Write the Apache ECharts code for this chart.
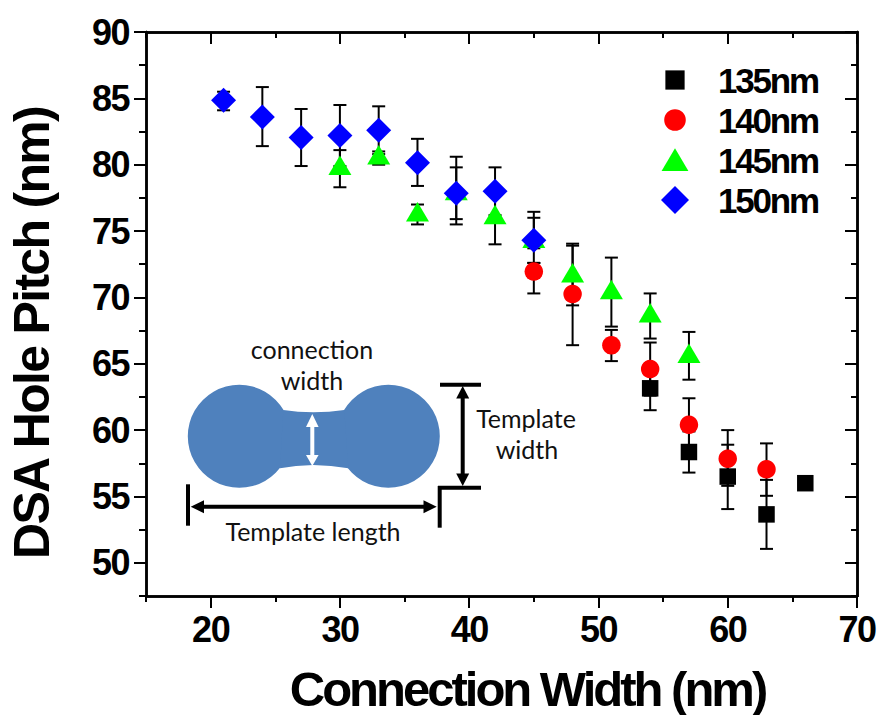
<!DOCTYPE html>
<html><head><meta charset="utf-8">
<style>
html,body{margin:0;padding:0;background:#fff}
#c{width:880px;height:715px}
text[style*="36px"]{letter-spacing:-1.5px}
text[style*="35px"]{letter-spacing:-2.2px}
text[style*="49px"]{letter-spacing:-3px}
text[style*="50px"]{letter-spacing:-1.7px}
</style>
<script src="https://cdn.jsdelivr.net/npm/echarts@6/dist/echarts.min.js"></script>
</head><body><div id="c"></div>
<script>
const xMajor=[20,30,40,50,60,70];
const xMinor=[15,25,35,45,55,65];
const yMajor=[50,55,60,65,70,75,80,85,90];
const yMinor=[47.5,52.5,57.5,62.5,67.5,72.5,77.5,82.5,87.5];

const x135=[54,57,60,63,66];
const y135=[63.15,58.35,56.5,53.65,56.0];
const lo135=[61.5,56.8,54.05,51.05,55.7];
const hi135=[64.8,59.9,58.9,56.25,56.3];

const x140=[45,48,51,54,57,60,63];
const y140=[71.95,70.25,66.4,64.6,60.4,57.85,57.05];
const lo140=[70.3,66.4,65.2,62.6,58.4,55.8,55.05];
const hi140=[72.6,73.9,67.55,66.6,62.4,60.0,59.0];

const x145=[30,33,36,39,42,45,48,51,54,57];
const y145=[79.8,80.6,76.3,77.9,76.1,74.3,71.7,70.45,68.7,65.65];
const lo145=[78.3,80.0,75.5,75.9,74.0,72.6,69.4,67.8,66.9,63.8];
const hi145=[81.1,81.0,77.0,79.8,78.2,76.0,74.05,73.0,70.3,67.4];

const x150=[21,24,27,30,33,36,39,42,45];
const y150=[84.85,83.6,82.05,82.2,82.6,80.15,77.85,78.0,74.3];
const lo150=[84.1,81.4,79.9,79.9,80.8,78.4,75.5,76.2,73.7];
const hi150=[85.5,85.85,84.2,84.5,84.4,81.95,80.6,79.8,76.45];

const seriesNames=['135nm','140nm','145nm','150nm'];
const xTitle='Connection Width (nm)';
const yTitle='DSA Hole Pitch (nm)';

const F='"Liberation Sans", Arial, sans-serif';
const IF='Lato, "Open Sans", sans-serif';
const AW=2.5;

function zip(a,b){return a.map((v,i)=>[v,b[i]])}
function errSeries(name,xs,los,his){
  return {type:'custom',name:name,xAxisIndex:0,yAxisIndex:0,z:2,silent:true,clip:false,
    data:xs.map((v,i)=>[v,los[i],his[i]]),
    encode:{x:0,y:[1,2]},
    renderItem:function(p,api){
      const a=api.coord([api.value(0),api.value(1)]);
      const b=api.coord([api.value(0),api.value(2)]);
      const s={stroke:'#000',lineWidth:2};
      const h=6.5;
      return {type:'group',children:[
        {type:'line',shape:{x1:a[0],y1:a[1],x2:b[0],y2:b[1]},style:s},
        {type:'line',shape:{x1:a[0]-h,y1:a[1],x2:a[0]+h,y2:a[1]},style:s},
        {type:'line',shape:{x1:b[0]-h,y1:b[1],x2:b[0]+h,y2:b[1]},style:s}
      ]};
    }};
}
function scatter(name,xs,ys,symbol,size,color,z,off){
  return {type:'scatter',name:name,xAxisIndex:0,yAxisIndex:0,data:zip(xs,ys),symbol:symbol,symbolSize:size,
    symbolOffset:off||[0,0],z:z,itemStyle:{color:color,opacity:1},silent:true,clip:false};
}
const tickS=w=>({color:'#000',width:w||2});
function xAx(pos,vals,len,inside,main){
  return {type:'value',position:pos,min:15,max:70,
    splitLine:{show:false},
    axisLine:{show:true,onZero:false,lineStyle:{color:'#000',width:AW}},
    axisTick:{show:true,customValues:vals,length:len,inside:inside,lineStyle:tickS()},
    axisLabel:main?{show:true,customValues:xMajor,margin:15,color:'#000',fontFamily:F,fontWeight:'bold',fontSize:36}:{show:false},
    ...(main?{name:xTitle,nameLocation:'middle',nameGap:68,nameTextStyle:{color:'#000',fontFamily:F,fontWeight:'bold',fontSize:49,padding:[0,0,0,52]}}:{})
  };
}
function yAx(pos,vals,len,inside,main){
  return {type:'value',position:pos,min:47.5,max:90,
    splitLine:{show:false},
    axisLine:{show:true,onZero:false,lineStyle:{color:'#000',width:AW}},
    axisTick:{show:true,customValues:vals,length:len,inside:inside,lineStyle:tickS()},
    axisLabel:main?{show:true,customValues:yMajor,margin:17,color:'#000',fontFamily:F,fontWeight:'bold',fontSize:36}:{show:false},
    ...(main?{name:yTitle,nameLocation:'middle',nameGap:89,nameTextStyle:{color:'#000',fontFamily:F,fontWeight:'bold',fontSize:50,padding:[0,38,0,0]}}:{})
  };
}
const K={stroke:'#000',lineWidth:4};
const ln=(x1,y1,x2,y2,st)=>({type:'line',shape:{x1,y1,x2,y2},style:st||K,z:5,silent:true});
const pg=(pts,fill)=>({type:'polygon',shape:{points:pts},style:{fill:fill||'#000'},z:5,silent:true});
const tx=(t,x,y)=>({type:'text',x,y,z:6,silent:true,style:{text:t,fill:'#111',font:'25px '+IF,align:'center',verticalAlign:'middle'}});
const BL='#4f81bd';
const graphics=[
  {type:'circle',shape:{cx:239.3,cy:436.3,r:51.5},style:{fill:BL},z:4,silent:true},
  {type:'circle',shape:{cx:388.3,cy:436.3,r:51.5},style:{fill:BL},z:4,silent:true},
  {type:'polygon',z:4,silent:true,style:{fill:BL},shape:{points:[[283.3,410],[298,411.7],[313.3,412.3],[329,411.7],[344.3,410],[348.3,468.3],[331,466],[313.3,465],[296,466],[280,468.3]]}},
  ln(312.3,424,312.3,456,{stroke:'#fff',lineWidth:4}),
  pg([[312.3,414],[306,427],[318.6,427]],'#fff'),
  pg([[312.3,466],[306,455],[318.6,455]],'#fff'),
  ln(188,484.3,188,525.7),
  ln(439.7,486,439.7,527.7),
  ln(438,487.7,481,487.7),
  ln(440,384.7,481,384.7),
  ln(200,506.7,428,506.7),
  pg([[190.7,506.7],[204,500.2],[204,513.2]]),
  pg([[436.7,506.7],[423.5,500.2],[423.5,513.2]]),
  ln(462.7,395,462.7,477),
  pg([[462.7,386],[456.2,398.5],[469.2,398.5]]),
  pg([[462.7,486],[456.2,473.5],[469.2,473.5]]),
  tx('connection',312,348.5),
  tx('width',312,380),
  tx('Template length',313,531),
  tx('Template',526,418),
  tx('width',527,449)
];
const box='M0,0 L0,0 M24,24 L24,24 ';
const legendIcons={
  '135nm':'path://'+box+'M3.75,3.75 L20.25,3.75 L20.25,20.25 L3.75,20.25 Z',
  '140nm':'path://'+box+'M2.75,12 A9.25,9.25 0 1 1 21.25,12 A9.25,9.25 0 1 1 2.75,12 Z',
  '145nm':'path://'+box+'M12,2 L23.5,21.5 L0.5,21.5 Z',
  '150nm':'path://'+box+'M12,0 L24,12 L12,24 L0,12 Z'
};
const chart=echarts.init(document.getElementById('c'),null,{renderer:'svg',width:880,height:715});
chart.setOption({
  animation:false,backgroundColor:'#fff',
  grid:{left:146,right:23,top:32,bottom:119,containLabel:false,outerBoundsMode:'none'},
  xAxis:[xAx('bottom',xMajor,12,false,true),xAx('bottom',xMinor,6,false),xAx('top',xMajor,12,true),xAx('top',xMinor,6,true)],
  yAxis:[yAx('left',yMajor,12,false,true),yAx('left',yMinor,7,false),yAx('right',yMajor,12,true),yAx('right',yMinor,6,true)],
  legend:{data:seriesNames.map(n=>({name:n,icon:legendIcons[n]})),orient:'vertical',left:656,top:55,itemWidth:28,itemHeight:28,itemGap:0,selectedMode:false,
    textStyle:{color:'#000',fontFamily:F,fontWeight:'bold',fontSize:35,padding:[0,0,0,24],lineHeight:40}},
  graphic:{elements:graphics},
  series:[
    errSeries('err135',x135,lo135,hi135),
    errSeries('err140',x140,lo140,hi140),
    errSeries('err145',x145,lo145,hi145),
    errSeries('err150',x150,lo150,hi150),
    scatter(seriesNames[0],x135,y135,'rect',16.5,'#000000',10),
    scatter(seriesNames[1],x140,y140,'circle',18.5,'#ff0000',11),
    scatter(seriesNames[2],x145,y145,'triangle',[23,19.5],'#00ff00',12,[0,-2]),
    scatter(seriesNames[3],x150,y150,'diamond',25,'#0000ff',13)
  ]
});
</script></body></html>
